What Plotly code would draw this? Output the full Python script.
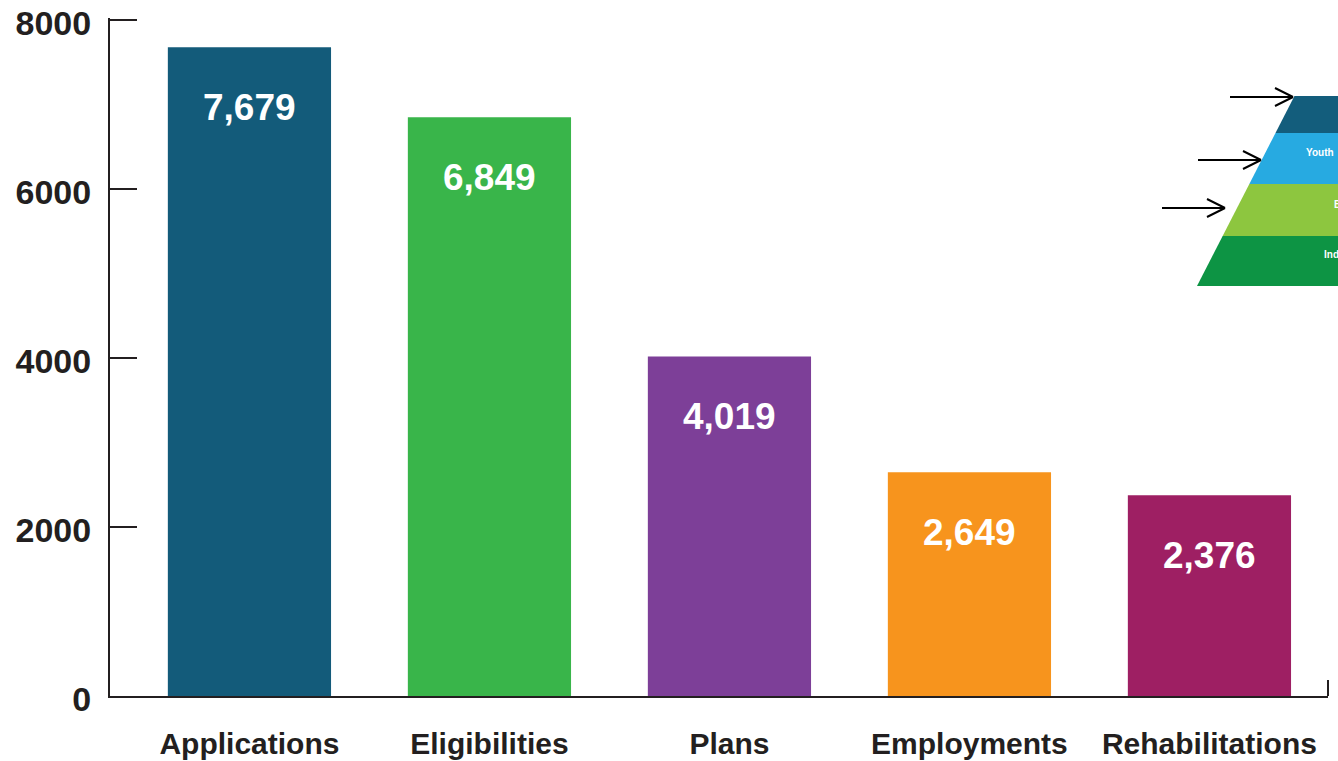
import plotly.graph_objects as go

# Vocational rehabilitation case flow counts
categories = ["Applications", "Eligibilities", "Plans", "Employments", "Rehabilitations"]
counts = [7679, 6849, 4019, 2649, 2376]
bar_colors = ["#135b7a", "#39b54a", "#7d3f98", "#f7941d", "#9e1f63"]
y_ticks = [0, 2000, 4000, 6000, 8000]

FONT = "Liberation Sans, Arial, Helvetica, sans-serif"
INK = "#231f20"

W, H = 1338, 761
M_L, M_R, M_T, M_B = 110, 10, 18, 65
PW, PH = W - M_L - M_R, H - M_T - M_B
# a little headroom so the top inside tick is kept
Y_MAX = 8024


def px(x, y):
    """Pixel position on the page -> paper coordinates."""
    return (x - M_L) / PW, (H - M_B - y) / PH


fig = go.Figure()
fig.add_trace(go.Bar(
    x=categories,
    y=counts,
    marker=dict(color=bar_colors, line=dict(width=0)),
    width=0.68,
    hoverinfo="x+y",
))

# value labels inside the top of each bar
for cat, val in zip(categories, counts):
    fig.add_annotation(
        x=cat, y=val, text=f"{val:,}", showarrow=False,
        yanchor="middle", yshift=-60,
        font=dict(family=FONT, size=37, color="white", weight="bold"),
    )

shapes = []

# small upright tick closing the baseline on the right
shapes.append(dict(type="line", xref="paper", yref="paper",
                   x0=1, x1=1, y0=0, y1=16 / PH,
                   line=dict(color=INK, width=2)))

# pyramid graphic in the upper right corner
slope = 0.513


def edge(y):
    return 1197 + (286 - y) * slope


layers = [(96, 133, "#135d7c", None),
          (133, 184, "#27aae1", ("Youth", 1304, 153)),
          (184, 236, "#8dc63f", ("B", 1332, 205)),
          (236, 286, "#0d9444", ("Ind", 1322, 254))]
for y0, y1, col, label in layers:
    pts = [px(edge(y0), y0), px(1360, y0), px(1360, y1), px(edge(y1), y1)]
    path = "M " + " L ".join(f"{a:.5f},{b:.5f}" for a, b in pts) + " Z"
    shapes.append(dict(type="path", xref="paper", yref="paper", path=path,
                       fillcolor=col, line=dict(width=0), layer="above"))
    if label:
        t, lx, ly = label
        ax, ay = px(lx, ly)
        fig.add_annotation(xref="paper", yref="paper", x=ax, y=ay, text=t,
                           showarrow=False, xanchor="left", yanchor="middle",
                           font=dict(family=FONT, size=10, color="white", weight="bold"))

# open-headed pointer arrows
for x0, x1, y in [(1230, 1293, 97), (1198, 1261, 160), (1162, 1225, 208)]:
    for a, b in [((x0, y), (x1, y)), ((x1 - 18, y - 9), (x1, y)), ((x1 - 18, y + 9), (x1, y))]:
        p0, p1 = px(*a), px(*b)
        shapes.append(dict(type="line", xref="paper", yref="paper",
                           x0=p0[0], y0=p0[1], x1=p1[0], y1=p1[1],
                           line=dict(color="black", width=2)))

fig.update_layout(
    width=W, height=H,
    margin=dict(l=M_L, r=M_R, t=M_T, b=M_B, autoexpand=False),
    paper_bgcolor="white", plot_bgcolor="white",
    showlegend=False,
    shapes=shapes,
    font=dict(family=FONT, color=INK),
)
fig.update_xaxes(
    range=[-0.581, 4.494],
    automargin=False, tickangle=0,
    showline=True, linecolor=INK, linewidth=2,
    ticks="", showgrid=False, zeroline=False,
    tickfont=dict(family=FONT, size=30, color=INK, weight="bold"),
    ticklabelstandoff=20,
)
fig.update_yaxes(
    range=[0, Y_MAX],
    automargin=False,
    tickvals=y_ticks, ticktext=[str(v) for v in y_ticks],
    showline=True, linecolor=INK, linewidth=2,
    ticks="inside", ticklen=27, tickwidth=2, tickcolor=INK,
    showgrid=False, zeroline=False,
    tickfont=dict(family=FONT, size=34, color=INK, weight="bold"),
    ticklabelstandoff=10, ticklabelshift=3,
    ticklabeloverflow="allow",
)

fig.write_html("out.html")
